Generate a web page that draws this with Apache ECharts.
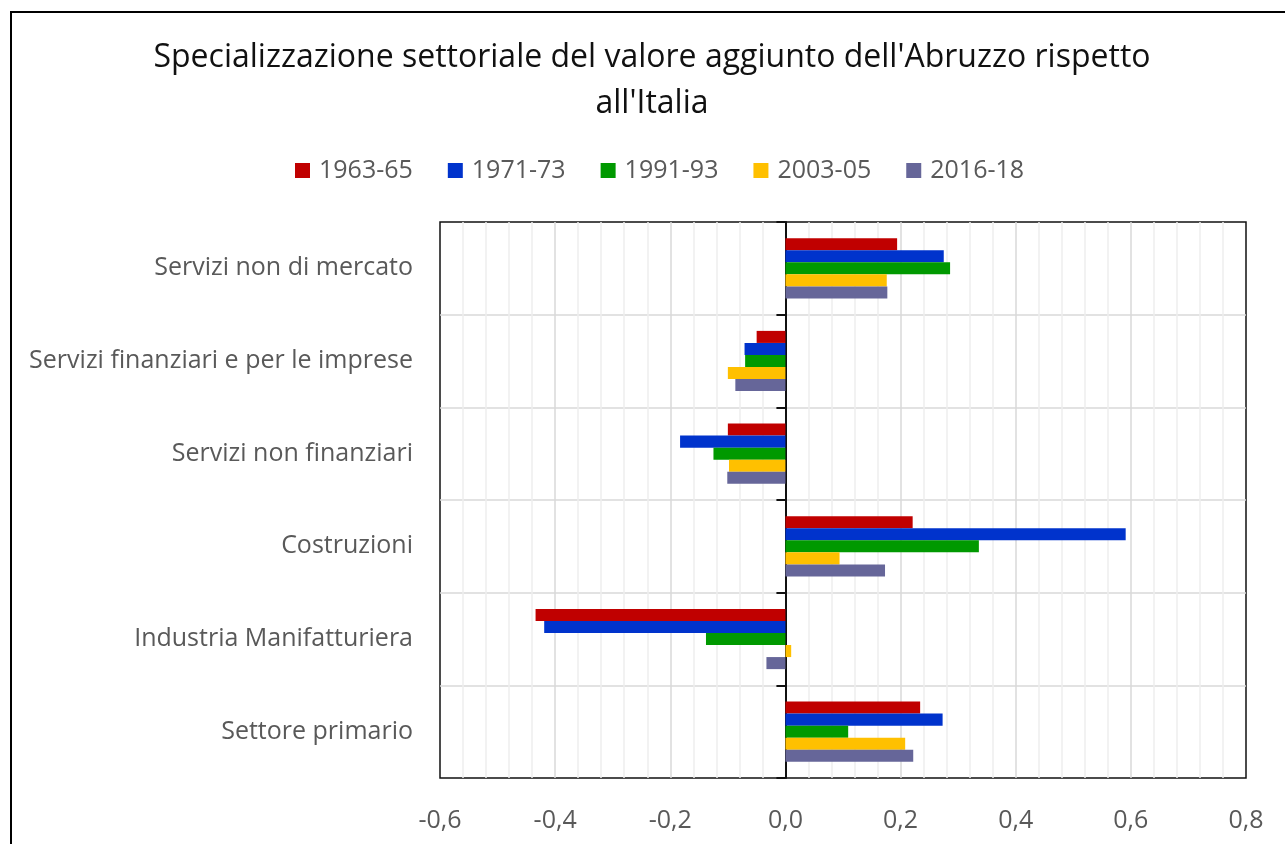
<!DOCTYPE html>
<html>
<head>
<meta charset="utf-8">
<title>Specializzazione settoriale Abruzzo</title>
<script src="https://cdn.jsdelivr.net/npm/echarts@6/dist/echarts.min.js"></script>
<style>
  html, body { margin: 0; padding: 0; background: #fff; }
  #chart { width: 1285px; height: 844px; }
  .frame { position: absolute; left: 10px; top: 11px; width: 1300px; height: 900px; border: 2px solid #000; box-sizing: border-box; pointer-events: none; }
</style>
</head>
<body>
<div id="chart"></div>
<div class="frame"></div>
<script>
// categories, top to bottom
const categories = [
  'Servizi non di mercato',
  'Servizi finanziari e per le imprese',
  'Servizi non finanziari',
  'Costruzioni',
  'Industria Manifatturiera',
  'Settore primario',
];
const periods = ['1963-65', '1971-73', '1991-93', '2003-05', '2016-18'];
const colors = ['#C00000', '#0033CC', '#009900', '#FFC000', '#666699'];

// values per period, same order as categories
const v1963 = [0.194, -0.050, -0.100, 0.221, -0.434, 0.234];
const v1971 = [0.275, -0.071, -0.183, 0.591, -0.419, 0.273];
const v1991 = [0.286, -0.070, -0.125, 0.336, -0.138, 0.109];
const v2003 = [0.176, -0.100, -0.098, 0.094, 0.010, 0.208];
const v2016 = [0.177, -0.087, -0.101, 0.173, -0.033, 0.222];
const seriesValues = [v1963, v1971, v1991, v2003, v2016];

const FONT = "'Open Sans', 'Noto Sans', sans-serif";

const chart = echarts.init(document.getElementById('chart'));
chart.setOption({
  animation: false,
  textStyle: { fontFamily: FONT },
  title: {
    text: "Specializzazione settoriale del valore aggiunto dell'Abruzzo rispetto\nall'Italia",
    left: 647,
    top: 30,
    textAlign: 'center',
    textStyle: { fontSize: 32, fontWeight: 'normal', color: '#111', lineHeight: 46, fontFamily: FONT },
  },
  legend: {
    top: 153,
    left: 290,
    itemWidth: 15,
    itemHeight: 15,
    itemGap: 35,
    icon: 'rect',
    textStyle: { fontSize: 25, color: '#595959', fontFamily: FONT, padding: [0, 0, 0, 4] },
    data: periods,
  },
  grid: {
    left: 440,
    right: 39,
    top: 222,
    bottom: 66,
    show: true,
    borderColor: '#111',
    borderWidth: 1.5,
    containLabel: false,
  },
  xAxis: {
    type: 'value',
    min: -0.6,
    max: 0.8,
    interval: 0.2,
    axisLine: { show: false },
    axisTick: { show: false },
    axisLabel: {
      fontSize: 25,
      color: '#595959',
      margin: 30,
      formatter: (v) => v.toFixed(1).replace('.', ','),
    },
    splitLine: { showMinLine: false, showMaxLine: false, lineStyle: { color: '#d9d9d9', width: 1.5 } },
    minorTick: { show: false, splitNumber: 5 },
    minorSplitLine: { show: true, lineStyle: { color: '#eeeeee', width: 1.5 } },
  },
  yAxis: [
    {
      type: 'category',
      inverse: true,
      data: categories,
      axisLine: { show: false, onZero: false },
      axisTick: { show: false },
      axisLabel: { fontSize: 25, color: '#595959', margin: 27 },
      splitLine: { show: true, showMinLine: false, showMaxLine: false, lineStyle: { color: '#d9d9d9', width: 1.5 } },
    },
    {
      type: 'category',
      inverse: true,
      position: 'left',
      data: categories,
      axisLine: { show: true, onZero: true, onZeroAxisIndex: 0, lineStyle: { color: '#111', width: 2 } },
      axisTick: { show: true, length: 9, lineStyle: { color: '#111', width: 2 } },
      axisLabel: { show: false },
      splitLine: { show: false },
    },
  ],
  series: periods.map((name, i) => ({
    name: name,
    type: 'bar',
    yAxisIndex: 0,
    data: seriesValues[i],
    barGap: '0%',
    barCategoryGap: '35%',
    itemStyle: { color: colors[i] },
  })),
});
</script>
</body>
</html>
